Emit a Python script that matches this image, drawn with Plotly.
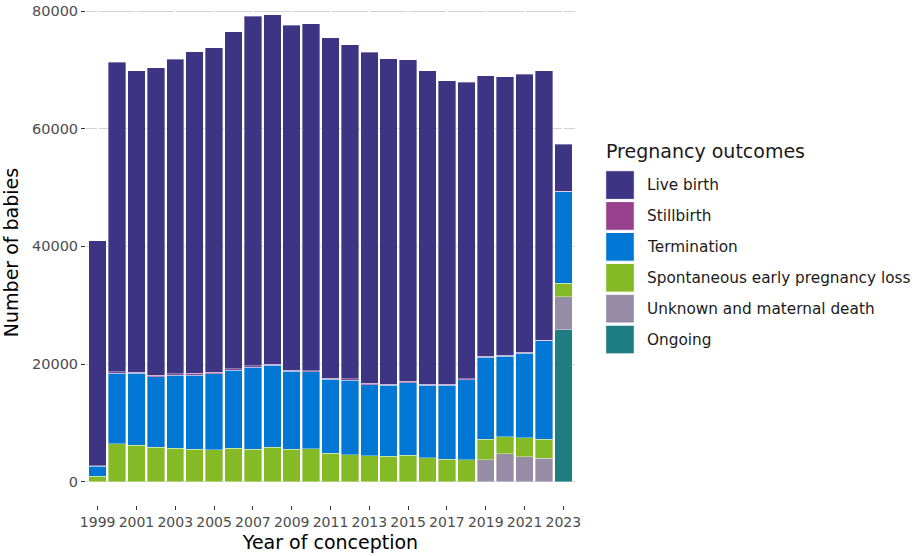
import plotly.graph_objects as go

years = list(range(1999, 2024))

live_birth = [38260, 52630, 51230, 52280, 53490, 54680, 55220, 57280, 59450, 59450,
              58650, 59020, 57910, 56860, 56320, 55300, 54730, 53340, 51600, 50430,
              47750, 47410, 47340, 45760, 8010]
stillbirth = [100, 270, 200, 300, 270, 280, 250, 230, 280, 220,
              220, 230, 220, 200, 230, 220, 230, 190, 220, 180,
              170, 170, 170, 120, 50]
termination = [1740, 12000, 12250, 11950, 12420, 12580, 12920, 13260, 13890, 13950,
               13270, 13100, 12590, 12700, 12070, 12020, 12300, 12310, 12530, 13630,
               13890, 13670, 14350, 16770, 15590]
spontaneous = [900, 6400, 6150, 5870, 5640, 5530, 5410, 5700, 5530, 5810,
               5470, 5550, 4790, 4560, 4390, 4340, 4510, 4050, 3830, 3710,
               3530, 2920, 3250, 3230, 2300]
unknown = [0, 0, 0, 0, 0, 0, 0, 0, 0, 0,
           0, 0, 0, 0, 0, 0, 0, 0, 0, 0,
           3700, 4700, 4200, 3950, 5600]
ongoing = [0, 0, 0, 0, 0, 0, 0, 0, 0, 0,
           0, 0, 0, 0, 0, 0, 0, 0, 0, 0,
           0, 0, 0, 0, 25800]

outcomes = ["Live birth", "Stillbirth", "Termination",
            "Spontaneous early pregnancy loss", "Unknown and maternal death", "Ongoing"]
series = [live_birth, stillbirth, termination, spontaneous, unknown, ongoing]
colours = ["#3d3483", "#97418f", "#0077d4", "#84ba26", "#968ca6", "#1e7d81"]

x_ticks = list(range(1999, 2024, 2))
y_ticks = [0, 20000, 40000, 60000, 80000]

W, H = 919, 556
L, R, T, B = 86, 344, 0, 51
pw, ph = W - L - R, H - T - B
xr = [1998.4, 2023.6]
yr = [-3975, 81900]

# ggplot draws white vertical grid at the x breaks over the grey horizontal grid,
# which shows up as small gaps; fake it with a dash pattern on the y grid
ppy = pw / (xr[1] - xr[0])
gap = 2.0
first = (x_ticks[0] - xr[0]) * ppy - gap / 2
period = 2 * ppy
grid_dash = f"{first:.2f}px,{gap}px,{period - gap - first:.2f}px,0px"

fig = go.Figure()

# stack from the bottom up
for name, vals, col in reversed(list(zip(outcomes, series, colours))):
    fig.add_trace(
        go.Bar(
            x=years,
            y=vals,
            name=name,
            marker=dict(color=col, line=dict(color="rgba(255,255,255,0.6)", width=0.6)),
            showlegend=False,
        )
    )


def px(x):
    return (x - L) / pw


def py(y):
    return (T + ph - y) / ph


# legend drawn by hand so the keys are the same size as ggplot's
shapes = []
annotations = [
    dict(text="Pregnancy outcomes", x=px(604), y=py(151), xref="paper", yref="paper",
         xanchor="left", yanchor="middle", showarrow=False,
         font=dict(size=19, color="#1a1a1a"))
]
for i, (name, col) in enumerate(zip(outcomes, colours)):
    top = 170.7 + i * 30.9
    shapes.append(dict(type="rect", xref="paper", yref="paper",
                       x0=px(605.7), x1=px(634.3), y0=py(top + 28.7), y1=py(top),
                       fillcolor=col, line=dict(color="white", width=1)))
    annotations.append(dict(text=name, x=px(645), y=py(top + 14.6), xref="paper", yref="paper",
                            xanchor="left", yanchor="middle", showarrow=False,
                            font=dict(size=15.3, color="#1a1a1a")))

fig.update_layout(
    width=W,
    height=H,
    barmode="stack",
    bargap=0.1,
    margin=dict(l=L, r=R, t=T, b=B),
    plot_bgcolor="white",
    paper_bgcolor="white",
    font=dict(family="DejaVu Sans", color="#4d4d4d"),
    shapes=shapes,
    annotations=annotations,
    xaxis=dict(
        range=xr,
        tickvals=x_ticks,
        ticks="outside",
        ticklen=4,
        tickwidth=1.2,
        tickcolor="#333333",
        showgrid=False,
        zeroline=False,
        showline=False,
        tickfont=dict(size=14, color="#4d4d4d"),
        title=dict(text="Year of conception", standoff=6, font=dict(size=19, color="black")),
    ),
    yaxis=dict(
        range=yr,
        tickvals=y_ticks,
        ticktext=[str(v) for v in y_ticks],
        ticks="outside",
        ticklen=4,
        tickwidth=1.2,
        tickcolor="#333333",
        showgrid=True,
        gridcolor="#d3d3d3",
        gridwidth=1.4,
        griddash=grid_dash,
        zeroline=False,
        showline=False,
        tickfont=dict(size=14.5, color="#4d4d4d"),
        title=dict(text="Number of babies", standoff=9, font=dict(size=19, color="black")),
    ),
)

# the page's default 8px body margin would push the figure off the window
fig.write_html("out.html", config={"displayModeBar": False},
               post_script="document.body.style.margin='0';")
